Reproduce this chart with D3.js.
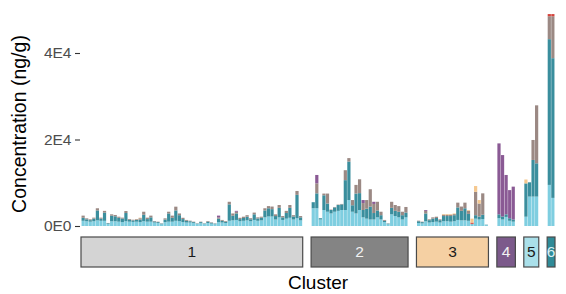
<!DOCTYPE html>
<html>
<head>
<meta charset="utf-8">
<script src="https://cdn.jsdelivr.net/npm/d3@7"></script>
<style>
  body { margin: 0; background: #fff; }
  svg { display: block; font-family: "Liberation Sans", Arial, sans-serif; }
</style>
</head>
<body>
<div id="chart"></div>
<script>
// clusters and how many samples each one holds (samples listed in cluster order)
const clusters = ['1', '2', '3', '4', '5', '6'];
const clusterSizes = [62, 27, 20, 5, 4, 2];

// concentration per sample (ng/g), one array per stacked group
const lightBlue = [
  1200,1100,1000,1100,1300,1200,1200,500,1100,1100,
  1000,900,1100,1000,950,1000,900,1100,1000,1000,
  800,700,400,900,1000,1000,1200,1100,900,800,
  800,700,450,650,450,700,550,400,900,800,
  700,1200,1300,1400,1100,1200,1300,1100,1400,1200,
  1300,2000,2200,2200,1500,2000,1400,1700,1900,1500,
  1800,1300,
  4100,4100,1500,3700,3300,2900,3300,3500,3700,3700,
  6000,3300,2900,3700,2000,1700,1500,1500,2000,1500,
  900,400,2700,2300,2000,1500,2000,
  700,600,1100,800,900,1000,800,1100,1100,1000,
  1100,1400,1300,1300,1200,400,1700,1500,1600,200,
  1800,1500,2100,1200,1000,
  2150,6800,6800,6800,
  9500,6500
];
const teal = [
  700,450,350,600,2300,500,1900,150,1300,1150,
  900,800,1900,450,350,400,600,1500,600,1000,
  250,200,150,600,1900,900,2400,1400,700,400,
  300,200,100,250,100,300,200,150,800,400,
  300,3800,1100,1500,500,650,850,450,1300,550,
  600,1600,1900,1700,800,2200,600,1300,2300,700,
  5400,700,
  1400,3450,300,3400,1900,800,1000,1350,1300,6900,
  8900,1500,4600,3900,1700,2300,3000,1500,1600,1000,
  300,150,1500,1200,1300,1000,1100,
  400,300,1800,550,800,850,550,1200,1200,1300,
  1400,2900,2200,2800,1600,100,800,700,1000,100,
  900,700,600,600,500,
  7700,3300,8470,7700,
  33700,32300
];
const brown = [
  500,220,190,230,500,230,400,50,300,300,
  250,230,460,170,150,170,300,700,330,400,
  100,100,50,270,400,500,870,400,300,200,
  130,100,50,100,50,150,100,50,300,200,
  150,600,500,400,300,300,350,250,400,250,
  250,500,500,600,400,650,300,500,650,300,
  900,300,
  0,2300,0,400,2300,100,100,100,100,2300,
  800,1200,2000,3200,1600,2000,4000,2100,2000,800,
  200,50,1400,1350,1300,800,1300,
  130,100,600,190,300,300,190,300,300,300,
  250,1100,1000,1300,700,0,5400,3000,4950,0,
  0,0,0,0,0,
  0,0,4620,13400,
  5300,9700
];
const purple = [
  0,0,0,0,0,0,0,0,0,0,
  0,0,0,0,0,0,0,0,0,0,
  0,0,0,0,0,0,0,0,0,0,
  0,0,0,0,0,0,0,0,400,0,
  0,0,0,200,0,0,0,0,0,0,
  0,0,0,0,0,0,0,0,0,0,
  0,0,
  0,1950,0,0,0,0,0,0,0,0,
  0,0,0,0,700,0,0,500,0,0,
  0,0,0,0,0,0,0,
  0,0,200,0,0,0,0,0,0,0,
  0,0,0,0,0,0,0,0,0,0,
  16400,14200,9100,6500,7600,
  0,0,0,0,
  0,0
];
const red = [
  0,0,0,0,0,0,0,0,0,0,
  0,0,0,0,0,0,0,0,0,0,
  0,0,0,0,0,0,0,0,0,0,
  0,0,0,0,0,0,0,0,0,0,
  0,0,0,0,0,0,0,0,0,0,
  0,0,0,0,0,0,0,0,0,0,
  0,0,
  0,0,0,0,0,0,0,0,0,0,
  0,0,0,0,0,0,0,0,0,0,
  0,0,0,0,0,0,0,
  0,0,0,0,0,0,0,0,0,0,
  0,0,0,0,0,300,0,0,0,0,
  0,0,0,0,0,
  0,0,0,0,
  500,500
];
const orange = [
  0,0,0,0,0,0,0,0,0,0,
  0,0,0,0,0,50,130,0,0,0,
  0,0,0,0,0,0,0,0,0,0,
  0,0,0,0,0,0,0,0,0,0,
  0,0,0,0,0,0,0,0,0,0,
  0,0,0,0,0,0,0,0,0,0,
  0,0,
  0,0,0,0,0,0,0,0,0,0,
  0,0,0,0,0,0,0,0,0,0,
  0,0,0,0,0,0,0,
  0,0,0,0,0,0,0,170,170,170,
  150,0,0,0,200,900,1340,800,0,0,
  0,0,0,0,0,
  900,0,0,0,
  0,0
];

const seriesKeys = ['lightBlue', 'teal', 'brown', 'purple', 'red', 'orange'];
const seriesColors = ['#7fcee0', '#3a8e9d', '#9b8984', '#8a5a94', '#d4433b', '#f5c88f'];
const stripColors = ['#d4d4d4', '#848484', '#f5d0a3', '#7c5a8b', '#aae0ea', '#2f8b98'];
const stripTextColors = ['#1a1a1a', '#f2f2f2', '#1a1a1a', '#f2f2f2', '#1a1a1a', '#d8f0f4'];

const yTicks = [0, 20000, 40000];
const yTickLabels = ['0E0', '2E4', '4E4'];

const width = 566, height = 294;
const plotLeft = 81, plotRight = 555, panelGap = 8.4;
const stripTop = 237, stripBottom = 267;

// build sample rows
const samples = [];
let idx = 0;
clusterSizes.forEach((n, c) => {
  for (let k = 0; k < n; k++, idx++) {
    samples.push({
      id: idx,
      cluster: clusters[c],
      lightBlue: lightBlue[idx], teal: teal[idx], brown: brown[idx],
      purple: purple[idx], red: red[idx], orange: orange[idx]
    });
  }
});

const svg = d3.select('#chart').append('svg')
  .attr('width', width)
  .attr('height', height);

// panel widths follow the number of bars (free x space)
const unit = (plotRight - plotLeft - panelGap * (clusters.length - 1)) /
  d3.sum(clusterSizes, n => n + 0.2);
const panels = [];
let left = plotLeft;
clusters.forEach((c, i) => {
  const w = (clusterSizes[i] + 0.2) * unit;
  const ids = samples.filter(s => s.cluster === c).map(s => s.id);
  const x = d3.scaleBand()
    .domain(ids)
    .range([left, left + w])
    .paddingInner(0.1)
    .paddingOuter(0.15);
  panels.push({ cluster: c, left, width: w, x });
  left += w + panelGap;
});
const xOf = {};
panels.forEach(p => { xOf[p.cluster] = p.x; });

const y = d3.scaleLinear()
  .domain([0, 40000])
  .range([226, 53]);

// stacked bars
const stacked = d3.stack().keys(seriesKeys)(samples);
svg.append('g')
  .selectAll('g')
  .data(stacked)
  .join('g')
  .attr('fill', (d, i) => seriesColors[i])
  .selectAll('rect')
  .data(d => d.filter(s => s[1] > s[0]))
  .join('rect')
  .attr('x', d => xOf[d.data.cluster](d.data.id))
  .attr('width', d => xOf[d.data.cluster].bandwidth())
  .attr('y', d => y(d[1]))
  .attr('height', d => y(d[0]) - y(d[1]));

// y axis (ticks only, no line)
const yAxis = svg.append('g')
  .attr('transform', `translate(${plotLeft - 1},0)`)
  .call(d3.axisLeft(y)
    .tickValues(yTicks)
    .tickFormat((d, i) => yTickLabels[i])
    .tickSize(5)
    .tickPadding(3.5));
yAxis.select('.domain').remove();
yAxis.selectAll('line').attr('stroke', '#333').attr('stroke-width', 1.1);
yAxis.selectAll('text')
  .attr('fill', '#4d4d4d')
  .attr('font-size', 15.5)
  .attr('font-family', '"Liberation Sans", Arial, sans-serif');

// cluster strips
const strip = svg.append('g')
  .selectAll('g')
  .data(panels)
  .join('g');
strip.append('rect')
  .attr('x', d => d.left)
  .attr('y', stripTop)
  .attr('width', d => d.width)
  .attr('height', stripBottom - stripTop)
  .attr('fill', (d, i) => stripColors[i])
  .attr('stroke', '#4a4a4a')
  .attr('stroke-width', 1.2);
strip.append('text')
  .attr('x', d => d.left + d.width / 2)
  .attr('y', 257)
  .attr('text-anchor', 'middle')
  .attr('font-size', 15.5)
  .attr('fill', (d, i) => stripTextColors[i])
  .text(d => d.cluster);

// axis titles
svg.append('text')
  .attr('x', (plotLeft + plotRight) / 2)
  .attr('y', 289)
  .attr('text-anchor', 'middle')
  .attr('font-size', 19)
  .attr('fill', '#000')
  .text('Cluster');

svg.append('text')
  .attr('transform', 'translate(26,124) rotate(-90)')
  .attr('text-anchor', 'middle')
  .attr('font-size', 19.5)
  .attr('fill', '#000')
  .text('Concentration (ng/g)');
</script>
</body>
</html>
